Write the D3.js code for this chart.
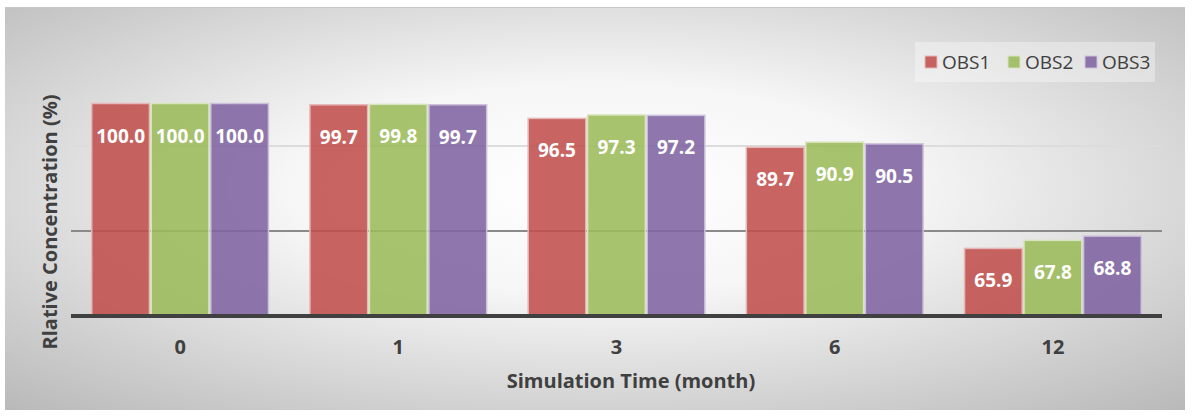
<!DOCTYPE html>
<html>
<head>
<meta charset="utf-8">
<script src="https://cdn.jsdelivr.net/npm/d3@7"></script>
<style>
  body { margin: 0; background: #fff; }
  text { font-family: "Open Sans", sans-serif; }
</style>
</head>
<body>
<div id="chart"></div>
<script>
// data
const times = ["0", "1", "3", "6", "12"];
const seriesNames = ["OBS1", "OBS2", "OBS3"];
const obs1 = [100.0, 99.7, 96.5, 89.7, 65.9];
const obs2 = [100.0, 99.8, 97.3, 90.9, 67.8];
const obs3 = [100.0, 99.7, 97.2, 90.5, 68.8];
const gridTicks = [70, 90];
const colors = ["#C0504D", "#9BBB59", "#8064A2"];
const strokes = ["#E6B9B8", "#D7E4BD", "#CCC1DA"];

const width = 1192, height = 419;
const svg = d3.select("#chart").append("svg")
	.attr("width", width)
	.attr("height", height);

// background gradient
let defs = svg.append("defs");
let grad = defs.append("radialGradient")
	.attr("id", "bg")
	.attr("cx", "0.5").attr("cy", "0.45")
	.attr("r", "0.75");
grad.append("stop").attr("offset", "0").attr("stop-color", "#ffffff");
grad.append("stop").attr("offset", "0.35").attr("stop-color", "#f6f6f6");
grad.append("stop").attr("offset", "1").attr("stop-color", "#b8b8b8");

svg.append("rect")
	.attr("x", 5).attr("y", 7)
	.attr("width", 1180).attr("height", 403)
	.attr("fill", "url(#bg)");
svg.append("line")
	.attr("x1", 5).attr("x2", 1185)
	.attr("y1", 7.5).attr("y2", 7.5)
	.style("stroke", "#c8c8c8");

let x0 = d3.scaleBand().domain(times).range([71, 1162])
	.paddingInner(0.19).paddingOuter(0.095);
let x1 = d3.scaleBand().domain(seriesNames).range([0, x0.bandwidth()])
	.paddingInner(0.03);
let y = d3.scaleLinear().domain([50, 110]).range([316, 61]);

// gridlines
svg.selectAll("line.grid")
	.data(gridTicks)
	.enter().append("line")
	.attr("class", "grid")
	.attr("x1", 71).attr("x2", 1162)
	.attr("y1", d => y(d)).attr("y2", d => y(d))
	.style("stroke", d => d === 70 ? "#8a8a8a" : "#dcdcdc")
	.style("stroke-width", 2);

let rows = times.map((t, i) => ({
	time: t,
	values: [obs1[i], obs2[i], obs3[i]].map((v, j) => ({name: seriesNames[j], idx: j, value: v}))
}));

let groups = svg.selectAll("g.group")
	.data(rows)
	.enter().append("g")
	.attr("class", "group")
	.attr("transform", d => "translate(" + x0(d.time) + ",0)");

groups.selectAll("rect")
	.data(d => d.values)
	.enter().append("rect")
	.attr("x", d => x1(d.name))
	.attr("y", d => y(d.value))
	.attr("width", x1.bandwidth())
	.attr("height", d => y(50) - y(d.value))
	.style("fill", d => colors[d.idx])
	.style("fill-opacity", 0.88)
	.style("stroke", d => strokes[d.idx])
	.style("stroke-width", 1.5);

groups.selectAll("text.val")
	.data(d => d.values)
	.enter().append("text")
	.attr("class", "val")
	.attr("x", d => x1(d.name) + x1.bandwidth() / 2)
	.attr("y", d => y(d.value) + 39)
	.attr("text-anchor", "middle")
	.style("fill", "#fff")
	.style("font-weight", "bold")
	.style("font-size", "19px")
	.text(d => d.value.toFixed(1));

// baseline
svg.append("line")
	.attr("x1", 71).attr("x2", 1162)
	.attr("y1", y(50)).attr("y2", y(50))
	.style("stroke", "#404040")
	.style("stroke-width", 4);

// x axis labels
let xAxis = d3.axisBottom(x0).tickSize(0).tickPadding(24);
let gx = svg.append("g")
	.attr("transform", "translate(0," + y(50) + ")")
	.call(xAxis);
gx.select(".domain").remove();
gx.selectAll("text")
	.style("font-family", "'Open Sans', sans-serif")
	.style("font-size", "20px")
	.style("font-weight", "bold")
	.style("fill", "#404040");

svg.append("text")
	.attr("x", 631).attr("y", 388)
	.attr("text-anchor", "middle")
	.style("font-size", "20px")
	.style("font-weight", "bold")
	.style("fill", "#404040")
	.text("Simulation Time (month)");

svg.append("text")
	.attr("transform", "translate(57,222) rotate(-90)")
	.attr("text-anchor", "middle")
	.style("font-size", "20px")
	.style("font-weight", "bold")
	.style("fill", "#404040")
	.text("Rlative Concentration (%)");

// legend
svg.append("rect")
	.attr("x", 915).attr("y", 42)
	.attr("width", 240).attr("height", 40)
	.style("fill", "#ffffff")
	.style("fill-opacity", 0.35);

let legendX = [925, 1008, 1085];
let legend = svg.selectAll("g.legend")
	.data(seriesNames)
	.enter().append("g")
	.attr("class", "legend")
	.attr("transform", (d, i) => "translate(" + legendX[i] + ",62)");
legend.append("rect")
	.attr("x", 0).attr("y", -6)
	.attr("width", 12).attr("height", 12)
	.style("fill", (d, i) => colors[i])
	.style("fill-opacity", 0.88)
	.style("stroke", (d, i) => strokes[i]);
legend.append("text")
	.attr("x", 17).attr("y", 0)
	.attr("dy", "0.35em")
	.style("font-size", "19px")
	.style("fill", "#404040")
	.text(d => d);
</script>
</body>
</html>
